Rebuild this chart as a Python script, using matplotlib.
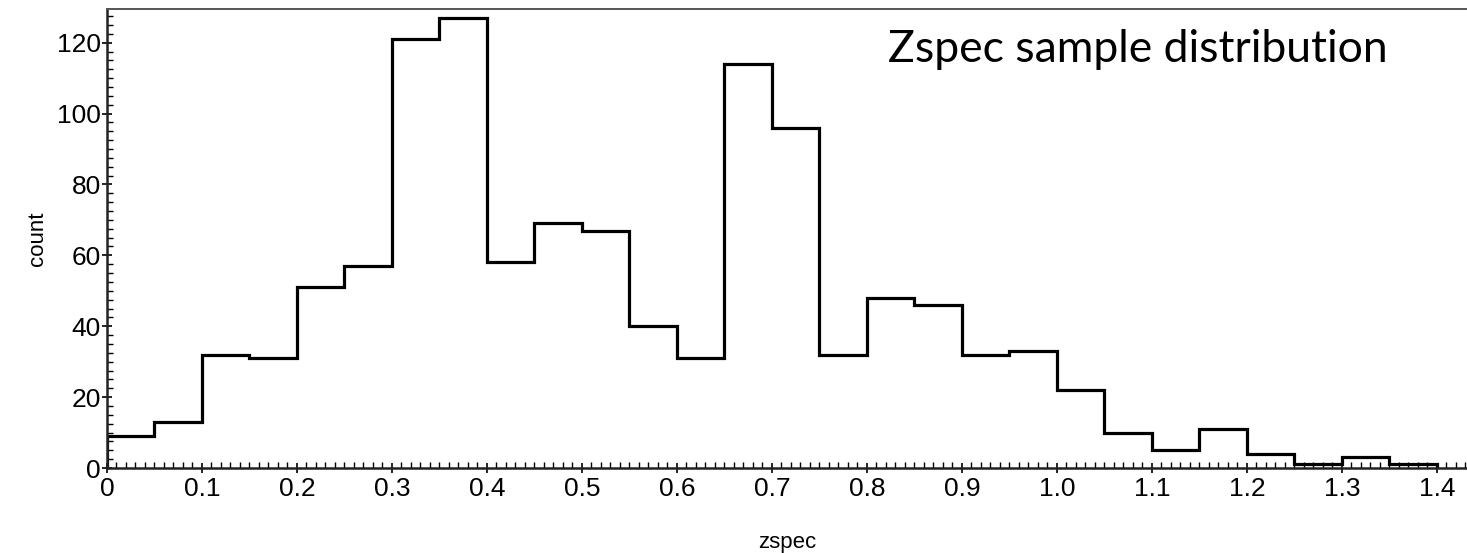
import matplotlib
matplotlib.use('Agg')
import matplotlib.pyplot as plt
import matplotlib.ticker as ticker
import numpy as np

# ビン境界と各ビンの件数
bin_edges = np.round(np.arange(0, 1.4001, 0.05), 2)
counts = [9, 13, 32, 31, 51, 57, 121, 127, 58, 69, 67, 40, 31, 114,
          96, 32, 48, 46, 32, 33, 22, 10, 5, 11, 4, 1, 3, 1]
x_ticks = [0, 0.1, 0.2, 0.3, 0.4, 0.5, 0.6, 0.7, 0.8, 0.9, 1.0, 1.1, 1.2, 1.3, 1.4]
x_tick_labels = ['0', '0.1', '0.2', '0.3', '0.4', '0.5', '0.6', '0.7',
                 '0.8', '0.9', '1.0', '1.1', '1.2', '1.3', '1.4']
y_ticks = [0, 20, 40, 60, 80, 100, 120]

plt.rcParams['font.family'] = ['Liberation Sans', 'DejaVu Sans']

fig = plt.figure(figsize=(14.67, 5.53), dpi=100)
ax = fig.add_axes([107 / 1467, 85 / 553, 1 - 107 / 1467, 459 / 553])

# ヒストグラム(輪郭のみ)
ax.stairs(counts, bin_edges, baseline=0, color='black', linewidth=2.3)

ax.set_xlim(0, 1.4316)
ax.set_ylim(0, 129.5)

ax.set_xticks(x_ticks)
ax.set_xticklabels(x_tick_labels)
ax.set_yticks(y_ticks)
ax.xaxis.set_minor_locator(ticker.MultipleLocator(0.01))
ax.yaxis.set_minor_locator(ticker.MultipleLocator(2.5))

ax.tick_params(which='major', direction='inout', length=7, width=1.2,
               labelsize=19, colors='black')
ax.tick_params(which='minor', direction='in', length=4, width=1.0)
ax.tick_params(axis='x', pad=3)
ax.tick_params(axis='y', pad=1)

for side in ['left', 'bottom']:
    ax.spines[side].set_linewidth(1.8)
    ax.spines[side].set_color('#222222')
ax.spines['top'].set_linewidth(1.4)
ax.spines['top'].set_color('#555555')
ax.spines['right'].set_visible(False)

ax.set_xlabel('zspec', fontsize=16, labelpad=22)
ax.set_ylabel('count', fontsize=16, labelpad=6)

# 注記
ax.text(0.574, 0.885, 'Zspec sample distribution', transform=ax.transAxes,
        fontsize=32, family=['Lato', 'DejaVu Sans'], va='baseline', ha='left')

plt.savefig('out.png', dpi=100)
